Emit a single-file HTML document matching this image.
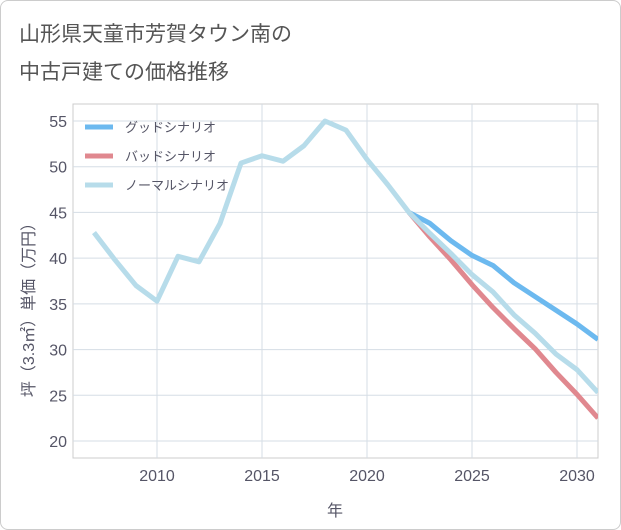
<!DOCTYPE html>
<html><head><meta charset="utf-8"><style>
body{margin:0;background:#fff;font-family:"Liberation Sans","Noto Sans CJK JP",sans-serif;}
#wrap{position:relative;width:619px;height:528px;border:1px solid #ccc;border-radius:8px;overflow:hidden;}
</style></head><body>
<div id="wrap">
<svg id="chart" width="619" height="528"></svg>
</div>
<script>
const years=[2007,2008,2009,2010,2011,2012,2013,2014,2015,2016,2017,2018,2019,2020,2021,2022,2023,2024,2025,2026,2027,2028,2029,2030,2031];
const normalVals=[42.8,39.8,37,35.3,40.2,39.6,43.8,50.4,51.2,50.6,52.3,55,54,50.8,48,45,42.7,40.5,38.2,36.3,33.8,31.8,29.5,27.8,25.3];
const goodYears=[2022,2023,2024,2025,2026,2027,2028,2029,2030,2031];
const goodVals=[45,43.8,41.9,40.3,39.2,37.3,35.8,34.3,32.8,31.1];
const badVals=[45,42.3,39.8,37.1,34.6,32.3,30.1,27.5,25.1,22.5];
const xTicks=[2010,2015,2020,2025,2030];
const yTicks=[20,25,30,35,40,45,50,55];
const NS="http://www.w3.org/2000/svg";
const svg=document.getElementById('chart');
const L=72,R=597,T=103,B=457;
const x=v=>156+(v-2010)*21;
const y=v=>440-(v-20)*320/35;
function el(t,a,txt){const e=document.createElementNS(NS,t);for(const k in a)e.setAttribute(k,a[k]);if(txt!==undefined)e.textContent=txt;svg.appendChild(e);return e;}
let t=el('text',{x:18,y:40,'font-size':21,fill:'#555'},'山形県天童市芳賀タウン南の');


t=el('text',{x:18,y:78,'font-size':21,fill:'#555'},'中古戸建ての価格推移');


let r=el('rect',{x:L,y:T,width:R-L,height:B-T,fill:'none',stroke:'#ccc'});


xTicks.forEach(v=>{
 let g=el('line',{x1:x(v),x2:x(v),y1:T,y2:B,stroke:'#d5dde5'});
 
 
 let l=el('text',{x:x(v),y:480,'font-size':16,fill:'#556','text-anchor':'middle'},v);
 
 
});
yTicks.forEach(v=>{
 let g=el('line',{x1:L,x2:R,y1:y(v),y2:y(v),stroke:'#d5dde5'});
 
 
 let l=el('text',{x:66,y:y(v)+6,'font-size':16,fill:'#556','text-anchor':'end'},v);
 
 
});
t=el('text',{x:334,y:515,'font-size':16,fill:'#556','text-anchor':'middle'},'年');


t=el('text',{x:0,y:0,'font-size':16,fill:'#556','text-anchor':'middle',transform:'translate(33,305) rotate(-90)'},'坪（3.3㎡）単価（万円）');


const clip=el('clipPath',{id:'c'});const cr=document.createElementNS(NS,'rect');
cr.setAttribute('x',L);cr.setAttribute('y',T);cr.setAttribute('width',R-L);cr.setAttribute('height',B-T);clip.appendChild(cr);
function line(xs,vs,color,name){
 const p=el('polyline',{points:xs.map((v,i)=>x(v)+','+y(vs[i])).join(' '),fill:'none',stroke:color,'stroke-width':5,'stroke-linejoin':'round','clip-path':'url(#c)'});
 
 
}
line(goodYears,goodVals,'#6cb9ef','good-scenario-line');
line(goodYears,badVals,'#e0888f','bad-scenario-line');
line(years,normalVals,'#b7dcea','normal-scenario-line');
const leg=[['グッドシナリオ','#6cb9ef'],['バッドシナリオ','#e0888f'],['ノーマルシナリオ','#b7dcea']];
leg.forEach((d,i)=>{
 const yy=126+i*29;
 let s=el('line',{x1:84,x2:112,y1:yy,y2:yy,stroke:d[1],'stroke-width':5});
 
 
 let l=el('text',{x:124,y:yy+5,'font-size':13,fill:'#556'},d[0]);
 
 
});
</script>
</body></html>
